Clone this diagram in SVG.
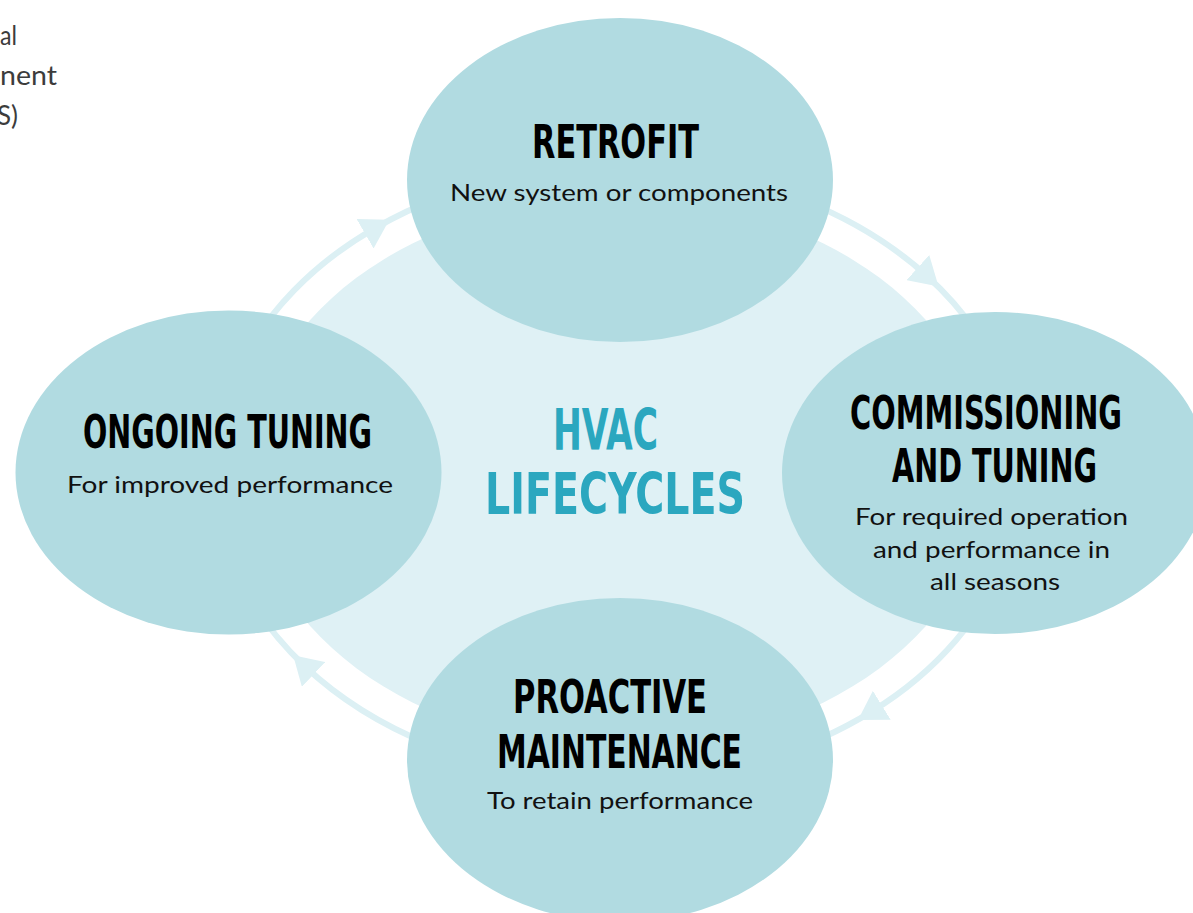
<svg xmlns="http://www.w3.org/2000/svg" width="1193" height="913" viewBox="0 0 1193 913">
  <defs>
    <style>
      .node { fill: #b1dbe1; }
      .hub { fill: #dff1f5; }
      .ring { fill: none; stroke: #dcf0f4; stroke-width: 6; marker-mid: url(#arrow); }
      .title { font-family: "DejaVu Sans Condensed", "DejaVu Sans", sans-serif; font-weight: bold; font-stretch: condensed; font-size: 47px; fill: #000; text-anchor: middle; }
      .hubtitle { font-family: "DejaVu Sans Condensed", "DejaVu Sans", sans-serif; font-weight: bold; font-stretch: condensed; font-size: 57px; fill: #2ba7bf; text-anchor: middle; }
      .sub { font-family: Lato, "Open Sans", sans-serif; font-size: 23px; fill: #111; text-anchor: middle; }
      .side { font-family: Lato, "Open Sans", sans-serif; font-size: 27px; fill: #3c3c3c; }
    </style>
    <marker id="arrow" viewBox="0 0 28 34" refX="12" refY="17" markerWidth="28" markerHeight="34" markerUnits="userSpaceOnUse" orient="auto">
      <path d="M0,0 L28,17 L0,34 Z" fill="#dcf0f4"/>
    </marker>
  </defs>

  <rect width="1193" height="913" fill="#ffffff"/>

  <g id="side-text">
    <text class="side" x="0" y="45" textLength="17" lengthAdjust="spacingAndGlyphs">al</text>
    <text class="side" x="0" y="85" textLength="57" lengthAdjust="spacingAndGlyphs">nent</text>
    <text class="side" x="-3" y="125" textLength="21" lengthAdjust="spacingAndGlyphs">S)</text>
  </g>

  <g id="hub">
    <ellipse class="hub" cx="618" cy="473" rx="370" ry="276"/>
  </g>

  <g id="connectors">
    <path class="ring" d="M 239.3 368 A 403 307 0 0 1 375.5 227.8 A 403 307 0 0 1 582.9 167.2"/>
    <path class="ring" d="M 653.1 167.2 A 403 307 0 0 1 926.7 275.7 A 403 307 0 0 1 1007.3 393.5"/>
    <path class="ring" d="M 1007.3 552.5 A 403 307 0 0 1 871.6 711.6 A 403 307 0 0 1 653.1 778.8"/>
    <path class="ring" d="M 582.9 778.8 A 403 307 0 0 1 304.8 666.2 A 403 307 0 0 1 228.7 552.5"/>
  </g>

  <g id="hub-label">
    <text class="hubtitle" x="605.5" y="450" textLength="105" lengthAdjust="spacingAndGlyphs">HVAC</text>
    <text class="hubtitle" x="615" y="514" textLength="260" lengthAdjust="spacingAndGlyphs">LIFECYCLES</text>
  </g>

  <g id="node-retrofit">
    <ellipse class="node" cx="620" cy="180" rx="213" ry="162"/>
    <text class="title" x="615.5" y="158" textLength="167" lengthAdjust="spacingAndGlyphs">RETROFIT</text>
    <text class="sub" x="619" y="201" textLength="338" lengthAdjust="spacingAndGlyphs">New system or components</text>
  </g>

  <g id="node-commissioning">
    <ellipse class="node" cx="995" cy="473" rx="213" ry="161"/>
    <text class="title" x="986" y="429" textLength="272" lengthAdjust="spacingAndGlyphs">COMMISSIONING</text>
    <text class="title" x="994.5" y="482" textLength="205" lengthAdjust="spacingAndGlyphs">AND TUNING</text>
    <text class="sub" x="991.5" y="525" textLength="273" lengthAdjust="spacingAndGlyphs">For required operation</text>
    <text class="sub" x="991.5" y="558" textLength="237" lengthAdjust="spacingAndGlyphs">and performance in</text>
    <text class="sub" x="995" y="590" textLength="130" lengthAdjust="spacingAndGlyphs">all seasons</text>
  </g>

  <g id="node-proactive">
    <ellipse class="node" cx="620" cy="760" rx="213" ry="162"/>
    <text class="title" x="610" y="713" textLength="194" lengthAdjust="spacingAndGlyphs">PROACTIVE</text>
    <text class="title" x="619.5" y="768" textLength="245" lengthAdjust="spacingAndGlyphs">MAINTENANCE</text>
    <text class="sub" x="620" y="809" textLength="266" lengthAdjust="spacingAndGlyphs">To retain performance</text>
  </g>

  <g id="node-ongoing">
    <ellipse class="node" cx="228.5" cy="472.5" rx="213" ry="162"/>
    <text class="title" x="227.5" y="448" textLength="289" lengthAdjust="spacingAndGlyphs">ONGOING TUNING</text>
    <text class="sub" x="230" y="493" textLength="326" lengthAdjust="spacingAndGlyphs">For improved performance</text>
  </g>
</svg>
